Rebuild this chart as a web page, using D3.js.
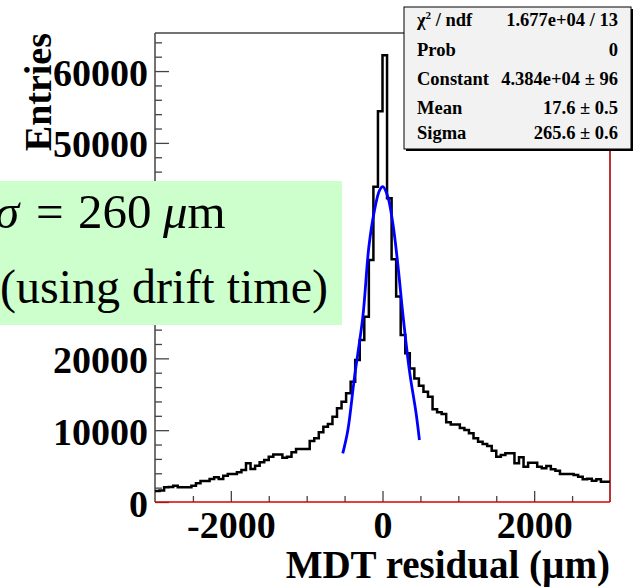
<!DOCTYPE html>
<html>
<head>
<meta charset="UTF-8">
<script src="https://d3js.org/d3.v7.min.js"></script>
<style>
  body { margin: 0; background: #fff; }
  text { font-family: "Liberation Serif", "Times New Roman", serif; }
</style>
</head>
<body>
<svg id="chart" width="635" height="588"></svg>
<script>
// histogram: 100 bins of 60 um between -3000 and 3000
var xRange = [-3000, 3000];
var binCounts = [
  1530, 1600, 2040, 2100, 2270, 2040, 2040, 2040, 2270, 2600,
  2920, 2920, 3200, 3430, 3200, 3660, 3900, 3900, 4130, 4450,
  5380, 4590, 5060, 5520, 5840, 6300, 6630, 6630, 6160, 6300,
  6920, 7370, 7370, 7370, 8490, 8860, 9700, 10480, 10850, 11870,
  13040, 13960, 15130, 16750, 19770, 22550, 25800, 33700, 43900, 54400,
  62200, 42300, 33800, 28600, 23250, 20700, 18600, 17200, 16200, 15350,
  14650, 12900, 12480, 12250, 11100, 10800, 10800, 10300, 10020, 9560,
  8860, 8400, 8070, 7800, 7140, 6300, 6540, 6780, 6780, 5380,
  6220, 4910, 5470, 5470, 4910, 4690, 5010, 4550, 4360, 3900,
  3900, 3900, 3760, 3520, 3160, 3250, 2960, 3160, 2830, 2830
];

// gaussian fit curve
var fitX = [-524, -457, -368, -259, -180, -105, -39, 4, 70, 136, 201, 267, 355, 443, 487];
var fitY = [6780, 10000, 17500, 25800, 35500, 40650, 43400, 43900, 42500, 38800, 33200, 26300, 18300, 12350, 8630];

var yMax = 65300;
var xMajor = [-2000, 0, 2000];
var xMinor = [-2500, -1500, -1000, -500, 500, 1000, 1500, 2500];
var yMajor = [0, 10000, 20000, 30000, 40000, 50000, 60000];
var yMinor = [2000, 4000, 6000, 8000, 12000, 14000, 16000, 18000, 22000, 24000, 26000, 28000,
  32000, 34000, 36000, 38000, 42000, 44000, 46000, 48000, 52000, 54000, 56000, 58000, 62000, 64000];

var statNames = ["χ2 / ndf", "Prob", "Constant", "Mean", "Sigma"];
var statValues = ["1.677e+04 / 13", "0", "4.384e+04 ± 96", "17.6 ± 0.5", "265.6 ± 0.6"];

var svg = d3.select("#chart");
var pL = 155, pR = 610, pT = 33, pB = 502;

var x = d3.scaleLinear().domain(xRange).range([pL, pR]);
var y = d3.scaleLinear().domain([0, yMax]).range([pB, pT]);

// minor ticks
svg.append("g").attr("transform", "translate(0," + pB + ")")
  .call(d3.axisBottom(x).tickValues(xMinor).tickSize(-6).tickSizeOuter(0).tickFormat(""))
  .call(g => g.select(".domain").remove());
svg.append("g").attr("transform", "translate(" + pL + ",0)")
  .call(d3.axisLeft(y).tickValues(yMinor).tickSize(-7).tickSizeOuter(0).tickFormat(""))
  .call(g => g.select(".domain").remove());

// major ticks with labels
var xAx = svg.append("g").attr("transform", "translate(0," + pB + ")")
  .call(d3.axisBottom(x).tickValues(xMajor).tickSize(-11).tickSizeOuter(0).tickFormat(d => String(d)));
xAx.select(".domain").remove();
xAx.selectAll("text").attr("y", 36).attr("dy", 0)
  .style("font-size", "38px").style("font-weight", "bold").attr("fill", "#000");

var yAx = svg.append("g").attr("transform", "translate(" + pL + ",0)")
  .call(d3.axisLeft(y).tickValues(yMajor).tickSize(-14).tickSizeOuter(0).tickFormat(d => String(d)));
yAx.select(".domain").remove();
yAx.selectAll("text").attr("x", -7).attr("dy", "14px")
  .style("font-size", "38px").style("font-weight", "bold").attr("fill", "#000");

svg.selectAll(".tick line").attr("stroke", "#444").attr("stroke-width", 1.3);

// frame
svg.append("line").attr("x1", pL).attr("x2", pL).attr("y1", pT).attr("y2", pB)
  .attr("stroke", "#444").attr("stroke-width", 1.5);
svg.append("line").attr("x1", pL).attr("x2", pR).attr("y1", pT).attr("y2", pT)
  .attr("stroke", "#444").attr("stroke-width", 1.5);
svg.append("line").attr("x1", pR).attr("x2", pR).attr("y1", pT).attr("y2", pB)
  .attr("stroke", "#a00").attr("stroke-width", 1.6);
svg.append("line").attr("x1", pL).attr("x2", pR).attr("y1", pB).attr("y2", pB)
  .attr("stroke", "#d00").attr("stroke-width", 1.6);

// histogram steps
var bw = (xRange[1] - xRange[0]) / binCounts.length;
var pts = [];
binCounts.forEach(function(c, i) {
  pts.push([xRange[0] + i * bw, c]);
  pts.push([xRange[0] + (i + 1) * bw, c]);
});
svg.append("path")
  .attr("d", d3.line().x(d => x(d[0])).y(d => y(d[1]))(pts))
  .attr("fill", "none").attr("stroke", "#000").attr("stroke-width", 2.5);

// fit
svg.append("path")
  .attr("d", d3.line().x(d => x(d[0])).y(d => y(d[1])).curve(d3.curveCatmullRom)(d3.zip(fitX, fitY)))
  .attr("fill", "none").attr("stroke", "#00f").attr("stroke-width", 2.8);

// axis titles
svg.append("text").attr("x", pR).attr("y", 578).attr("text-anchor", "end")
  .style("font-size", "39px").style("font-weight", "bold").text("MDT residual (µm)");
svg.append("text").attr("transform", "translate(51,33) rotate(-90)").attr("text-anchor", "end")
  .style("font-size", "38px").style("font-weight", "bold").text("Entries");

// stats box
svg.append("rect").attr("x", 406).attr("y", 9).attr("width", 227).attr("height", 142).attr("fill", "#000");
svg.append("rect").attr("x", 404).attr("y", 7).attr("width", 227).attr("height", 142)
  .attr("fill", "#f2f2f2").attr("stroke", "#000").attr("stroke-width", 1);
var rowY = [26, 56, 85, 114, 139];
statNames.forEach(function(n, i) {
  var t = svg.append("text").attr("x", 417).attr("y", rowY[i])
    .style("font-size", "18.5px").style("font-weight", "bold");
  if (i === 0) {
    t.append("tspan").text("χ");
    t.append("tspan").attr("dy", -7).style("font-size", "11px").text("2");
    t.append("tspan").attr("dy", 7).text(" / ndf");
  } else {
    t.text(n);
  }
  svg.append("text").attr("x", 618).attr("y", rowY[i]).attr("text-anchor", "end")
    .style("font-size", "18.5px").style("font-weight", "bold").text(statValues[i]);
});

// green annotation
svg.append("rect").attr("x", 0).attr("y", 181).attr("width", 342).attr("height", 144).attr("fill", "#ccffcc");
var l1 = svg.append("text").attr("y", 228).style("font-size", "49px");
l1.append("tspan").attr("x", -5).style("font-style", "italic").text("σ");
l1.append("tspan").attr("x", 36).text("=");
l1.append("tspan").attr("x", 78).text("260");
l1.append("tspan").attr("x", 163).style("font-style", "italic").text("μ");
l1.append("tspan").text("m");
svg.append("text").attr("x", 0).attr("y", 303).style("font-size", "48px").text("(using drift time)");
</script>
</body>
</html>
